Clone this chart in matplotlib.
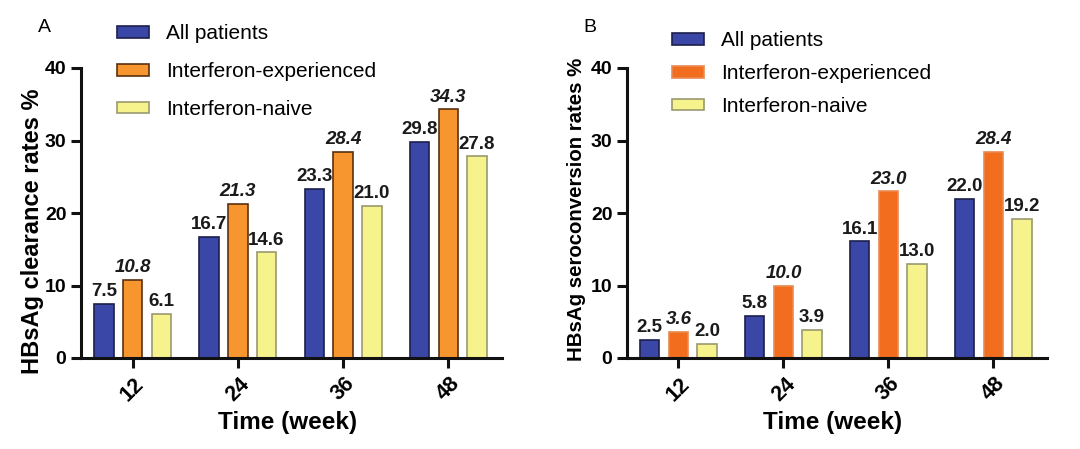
import matplotlib
matplotlib.use("Agg")
import matplotlib.pyplot as plt
from matplotlib.patches import Patch
import numpy as np

plt.rcParams['font.family'] = ['Liberation Sans', 'DejaVu Sans']

weeks = ["12", "24", "36", "48"]
series = ["All patients", "Interferon-experienced", "Interferon-naive"]
clearance_all = [7.5, 16.7, 23.3, 29.8]
clearance_exp = [10.8, 21.3, 28.4, 34.3]
clearance_naive = [6.1, 14.6, 21.0, 27.8]
sero_all = [2.5, 5.8, 16.1, 22.0]
sero_exp = [3.6, 10.0, 23.0, 28.4]
sero_naive = [2.0, 3.9, 13.0, 19.2]

fig = plt.figure(figsize=(10.8, 4.49), dpi=100)

W, H = 1080, 449
def ax_at(l, r, t, b):
    return fig.add_axes([l / W, 1 - b / H, (r - l) / W, (b - t) / H])

axA = ax_at(81, 502, 68, 358)
axB = ax_at(627, 1047, 68, 358)

panels = [
    dict(ax=axA, data=[clearance_all, clearance_exp, clearance_naive],
         fcs=["#3b47a6", "#f7962f", "#f6f28c"], ecs=["#1c1f4a", "#5a3110", "#9a9a70"],
         ylab="HBsAg clearance rates %", ylfs=17.0, ylpos=(33, 231),
         letter="A", lpos=(44, 28), legx=107, legtop=14, legsp=0.9),
    dict(ax=axB, data=[sero_all, sero_exp, sero_naive],
         fcs=["#3b47a6", "#f26e1e", "#f6f28c"], ecs=["#1c1f4a", "#e88a50", "#9a9a70"],
         ylab="HBsAg seroconversion rates %", ylfs=14.7, ylpos=(576, 209),
         letter="B", lpos=(590, 28), legx=662, legtop=21, legsp=0.66),
]

x = np.arange(len(weeks))
off = 0.273
bw = 0.185
for p in panels:
    ax = p['ax']
    fcs, ecs = p['fcs'], p['ecs']
    for i, vals in enumerate(p['data']):
        xs = x + (i - 1) * off
        ax.bar(xs, vals, width=bw, color=fcs[i], edgecolor=ecs[i], linewidth=1.2, zorder=2)
        for xx, v in zip(xs, vals):
            ax.text(xx, v + 0.5, f"{v:.1f}", ha='center', va='bottom',
                    fontsize=13.5, fontweight='bold',
                    fontstyle='italic' if i == 1 else 'normal', color='#1a1a1a')
    ax.set_xlim(-0.49, 3.51)
    ax.set_ylim(0, 40)
    ax.set_yticks([0, 10, 20, 30, 40])
    ax.set_xticks(x)
    ax.set_xticklabels(weeks, rotation=45, ha='center', va='top')
    for s in ['top', 'right']:
        ax.spines[s].set_visible(False)
    for s in ['left', 'bottom']:
        ax.spines[s].set_linewidth(2.2)
        ax.spines[s].set_color('#111111')
    ax.tick_params(axis='both', width=2.2, length=7, labelsize=14, color='#111111')
    ax.tick_params(axis='x', pad=4, labelsize=15.5)
    for lab in ax.get_xticklabels() + ax.get_yticklabels():
        lab.set_fontweight('bold')
    ax.set_xlabel("Time (week)", fontsize=17.5, fontweight='bold', va='center')
    ax.xaxis.set_label_coords(0.49, -(422 - 358) / 290)
    ax.set_ylabel(p['ylab'], fontsize=p['ylfs'], fontweight='bold', va='center')
    ax.yaxis.set_label_coords((p['ylpos'][0] - (81 if p['letter'] == 'A' else 627)) / 421,
                              (358 - p['ylpos'][1]) / 290)
    fig.text(p['lpos'][0] / W, 1 - p['lpos'][1] / H, p['letter'], fontsize=14,
             ha='center', va='center')
    handles = [Patch(facecolor=fcs[i], edgecolor=ecs[i], linewidth=1.2) for i in range(3)]
    ax.legend(handles, series, loc='upper left', frameon=False, borderpad=0,
              bbox_to_anchor=(p['legx'] / W, 1 - p['legtop'] / H),
              bbox_transform=fig.transFigure, fontsize=15,
              handlelength=1.5, handleheight=0.5, labelspacing=p['legsp'],
              handletextpad=0.85)

fig.savefig("out.png", dpi=100)
